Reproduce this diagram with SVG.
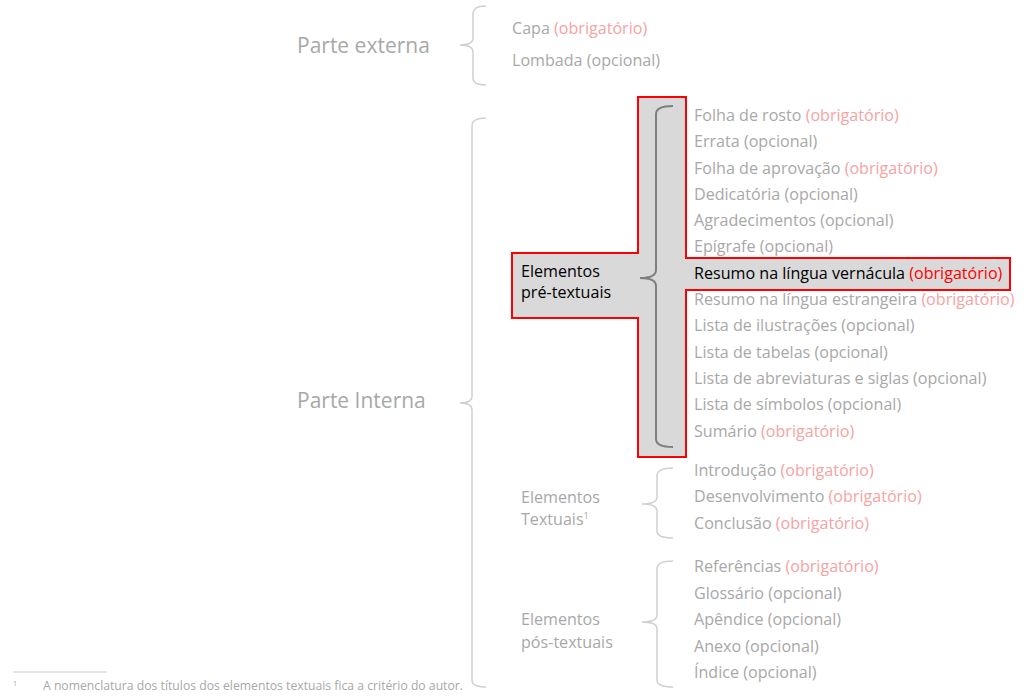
<svg xmlns="http://www.w3.org/2000/svg" width="1024" height="699" viewBox="0 0 1024 699">
<style>
.t{font-family:"Open Sans","Noto Sans",sans-serif;font-size:16.1px;fill:#a8a8a8}
.big{font-size:21px}
.fn{font-size:13px}
.sup{font-size:7px}
.sup2{font-size:9px}
.o{fill:#f5a3a3}
.br{fill:none;stroke:#d0d0d0;stroke-width:1.5}
.k{fill:#000}
.r{fill:#ff0000}
</style>
<rect width="1024" height="699" fill="#fff"/>
<g id="connectors">
<path class="br" d="M486,6 Q473,6 473,14 L473,38 Q473,45 460,45 Q473,45 473,52 L473,78 Q473,85 486,85"/>
<path class="br" d="M486,118 Q472,118 472,126 L472,396 Q472,403 460,403 Q472,403 472,410 L472,680 Q472,687 486,687"/>
<path class="br" d="M673,468 Q657,468 657,476 L657,497 Q657,504 642,504 Q657,504 657,511 L657,531 Q657,538 673,538"/>
<path class="br" d="M673,561 Q657,561 657,569 L657,615 Q657,622 642,622 Q657,622 657,629 L657,680 Q657,687 673,687"/>
</g>
<g id="parte-externa">
<text class="t big" x="297" y="53">Parte externa</text>
<text class="t" x="512" y="34">Capa <tspan class="o">(obrigatório)</tspan></text>
<text class="t" x="512" y="66">Lombada (opcional)</text>
</g>
<g id="parte-interna">
<text class="t big" x="297" y="408">Parte Interna</text>
</g>
<g id="pre-textuais">
<path d="M638,97 L686,97 L686,258 L1010,258 L1010,290 L686,290 L686,457 L638,457 L638,318 L512,318 L512,253 L638,253 Z" fill="#d9d9d9" stroke="#ff0000" stroke-width="2"/>
<path d="M673,106 Q656,106 656,114 L656,270 Q656,278 640,278 Q656,278 656,286 L656,439 Q656,447 673,447" fill="none" stroke="#7f7f7f" stroke-width="2"/>
<text class="t k" x="521" y="277">Elementos</text>
<text class="t k" x="521" y="298">pré-textuais</text>
<text class="t" x="694" y="121">Folha de rosto <tspan class="o">(obrigatório)</tspan></text>
<text class="t" x="694" y="147">Errata (opcional)</text>
<text class="t" x="694" y="174">Folha de aprovação <tspan class="o">(obrigatório)</tspan></text>
<text class="t" x="694" y="200">Dedicatória (opcional)</text>
<text class="t" x="694" y="226">Agradecimentos (opcional)</text>
<text class="t" x="694" y="252">Epígrafe (opcional)</text>
<text class="t k" x="694" y="279">Resumo na língua vernácula <tspan class="r">(obrigatório)</tspan></text>
<text class="t" x="694" y="305">Resumo na língua estrangeira <tspan class="o">(obrigatório)</tspan></text>
<text class="t" x="694" y="331">Lista de ilustrações (opcional)</text>
<text class="t" x="694" y="358">Lista de tabelas (opcional)</text>
<text class="t" x="694" y="384">Lista de abreviaturas e siglas (opcional)</text>
<text class="t" x="694" y="410">Lista de símbolos (opcional)</text>
<text class="t" x="694" y="437">Sumário <tspan class="o">(obrigatório)</tspan></text>
</g>
<g id="textuais">
<text class="t" x="521" y="503">Elementos</text>
<text class="t" x="521" y="525">Textuais<tspan class="sup2" dy="-6">1</tspan></text>
<text class="t" x="694" y="476">Introdução <tspan class="o">(obrigatório)</tspan></text>
<text class="t" x="694" y="502">Desenvolvimento <tspan class="o">(obrigatório)</tspan></text>
<text class="t" x="694" y="529">Conclusão <tspan class="o">(obrigatório)</tspan></text>
</g>
<g id="pos-textuais">
<text class="t" x="521" y="625">Elementos</text>
<text class="t" x="521" y="648">pós-textuais</text>
<text class="t" x="694" y="572">Referências <tspan class="o">(obrigatório)</tspan></text>
<text class="t" x="694" y="599">Glossário (opcional)</text>
<text class="t" x="694" y="625">Apêndice (opcional)</text>
<text class="t" x="694" y="652">Anexo (opcional)</text>
<text class="t" x="694" y="678">Índice (opcional)</text>
</g>
<g id="footnote">
<line x1="13" y1="672" x2="107" y2="672" stroke="#c8c8c8" stroke-width="1"/>
<text class="t sup" x="13" y="686">1</text>
<text class="t fn" x="43" y="690" textLength="420" lengthAdjust="spacingAndGlyphs">A nomenclatura dos títulos dos elementos textuais fica a critério do autor.</text>
</g>
</svg>
